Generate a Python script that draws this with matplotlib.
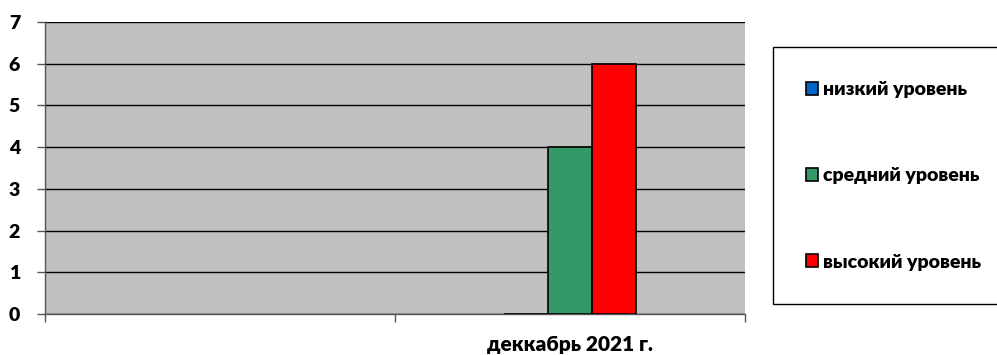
import matplotlib
matplotlib.use("Agg")
import matplotlib.pyplot as plt
import numpy as np
from matplotlib.patches import Patch, Rectangle

categories = ["", "деккабрь 2021 г."]
series_names = ["низкий уровень", "средний уровень", "высокий уровень"]
low = [np.nan, 0]
mid = [np.nan, 4]
high = [np.nan, 6]
colors = ["#0066CC", "#339966", "#FF0000"]
yticks = [0, 1, 2, 3, 4, 5, 6, 7]

plt.rcParams["font.family"] = ["Lato", "DejaVu Sans"]
plt.rcParams["font.weight"] = "bold"

fig = plt.figure(figsize=(9.97, 3.55), dpi=100)
ax = fig.add_axes([45 / 997, 41 / 355, 700 / 997, 292 / 355])
ax.set_facecolor("#C0C0C0")

x = np.arange(len(categories))
width = 0.126
for i, (vals, col) in enumerate(zip([low, mid, high], colors)):
    ax.bar(x + (i - 1) * width + 0.5, vals, width, color=col,
           edgecolor="black", linewidth=1.2, zorder=3)

ax.set_xlim(0, len(categories))
ax.set_ylim(0, 7)
ax.set_yticks(yticks)
ax.set_yticklabels([str(t) for t in yticks], fontsize=14, fontweight="heavy")
ax.set_xticks(np.arange(len(categories) + 1))
ax.set_xticklabels([])
for xi, lab in zip(x + 0.5, categories):
    ax.annotate(lab, xy=(xi, 0), xycoords=("data", "axes fraction"),
                xytext=(0, -15), textcoords="offset points",
                ha="center", va="top", fontsize=15, fontweight="heavy")

ax.yaxis.grid(True, color="black", linewidth=1)
ax.set_axisbelow(True)
for s in ["top", "right"]:
    ax.spines[s].set_visible(False)
for s in ["left", "bottom"]:
    ax.spines[s].set_color("#555555")
    ax.spines[s].set_linewidth(1)
ax.tick_params(axis="y", length=6, width=1, color="#555555", pad=12)
ax.tick_params(axis="x", length=6, width=1, color="#555555")

# legend box
fig.patches.append(Rectangle((773 / 997, (355 - 304) / 355), 230 / 997, 257 / 355,
                             transform=fig.transFigure, facecolor="white",
                             edgecolor="black", linewidth=1))
handles = [Patch(facecolor=c, edgecolor="black", linewidth=1.2) for c in colors]
leg = fig.legend(handles, series_names, loc="center left",
                 bbox_to_anchor=(788 / 997, (355 - 176) / 355), frameon=False,
                 handlelength=0.65, handleheight=0.65, handletextpad=0.25,
                 labelspacing=3.55, prop={"size": 14, "weight": "heavy"})

fig.savefig("out.png", dpi=100)
